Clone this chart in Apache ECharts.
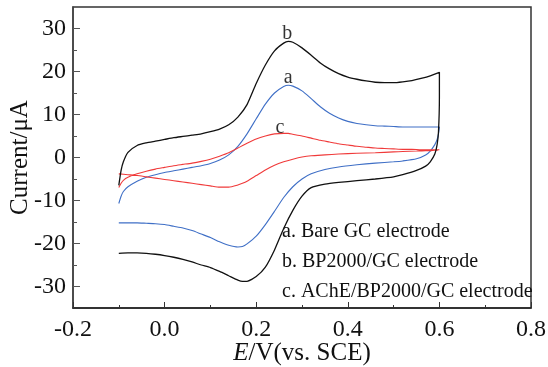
<!DOCTYPE html>
<html>
<head>
<meta charset="utf-8">
<script src="https://cdn.jsdelivr.net/npm/echarts@6/dist/echarts.min.js"></script>
<style>
  html, body { margin: 0; padding: 0; background: #fff; }
  #main { width: 548px; height: 367px; }
</style>
</head>
<body>
<div id="main"></div>
<script>
// potential grids (V vs SCE), forward = anodic scan, reverse = cathodic scan
const fwdE = [-0.1, -0.095, -0.09, -0.08, -0.06, -0.04, -0.02, 0, 0.02, 0.04, 0.06, 0.08, 0.1, 0.12, 0.14, 0.16, 0.18, 0.2, 0.22, 0.24, 0.26, 0.27, 0.28, 0.3, 0.32, 0.34, 0.36, 0.38, 0.4, 0.42, 0.44, 0.46, 0.48, 0.5, 0.52, 0.54, 0.56, 0.58, 0.6];
const revE = [0.6, 0.598, 0.595, 0.59, 0.58, 0.57, 0.55, 0.52, 0.5, 0.46, 0.42, 0.38, 0.35, 0.32, 0.3, 0.28, 0.26, 0.24, 0.22, 0.2, 0.18, 0.17, 0.16, 0.14, 0.12, 0.1, 0.08, 0.06, 0.04, 0.02, 0, -0.02, -0.04, -0.06, -0.08, -0.1];

// currents (uA)
const bareFwd = [-10.7, -9, -7.9, -6.8, -5.5, -4.6, -4.0, -3.5, -3.1, -2.7, -2.3, -1.9, -1.4, -0.6, 0.6, 2.6, 5.5, 9.0, 12.4, 15.0, 16.5, 16.8, 16.6, 15.5, 13.7, 11.8, 10.3, 9.2, 8.4, 7.9, 7.6, 7.4, 7.3, 7.2, 7.1, 7.1, 7.1, 7.1, 7.1];
const bareRev = [7.1, 5.5, 4.2, 3.0, 1.5, 0.6, -0.3, -0.8, -1.0, -1.3, -1.7, -2.2, -2.8, -3.8, -5.0, -6.8, -9.3, -12.5, -15.6, -18.3, -20.1, -20.7, -20.8, -20.4, -19.6, -18.6, -17.8, -17.0, -16.4, -16.0, -15.6, -15.4, -15.3, -15.2, -15.2, -15.2];

const bpFwd = [-6.5, -3, -1, 1.2, 2.8, 3.4, 3.8, 4.2, 4.6, 4.9, 5.2, 5.5, 6.0, 6.6, 7.6, 9.4, 12.3, 17.2, 21.5, 24.8, 26.6, 27.0, 26.8, 25.5, 23.8, 22.0, 20.6, 19.5, 18.7, 18.2, 17.8, 17.5, 17.4, 17.4, 17.6, 17.9, 18.4, 19.0, 19.8];
const bpRev = [14, 6, 3, 0.8, -1.0, -2.0, -3.0, -4.0, -4.5, -5.0, -5.4, -5.8, -6.2, -7.0, -9.0, -12.3, -16.5, -21.5, -25.5, -27.7, -28.8, -28.8, -28.5, -27.5, -26.5, -25.6, -25.0, -24.3, -23.7, -23.2, -22.8, -22.5, -22.3, -22.2, -22.2, -22.3];

const achFwd = [-7, -6, -5.3, -4.6, -3.8, -3.2, -2.7, -2.3, -1.9, -1.6, -1.3, -0.9, -0.4, 0.3, 1.1, 2.2, 3.3, 4.3, 5.0, 5.5, 5.6, 5.6, 5.4, 5.0, 4.5, 4.0, 3.6, 3.2, 2.9, 2.6, 2.4, 2.2, 2.1, 2.0, 1.9, 1.9, 1.8, 1.8, 1.8];
const achRev = [1.8, 1.8, 1.7, 1.7, 1.6, 1.6, 1.5, 1.4, 1.3, 1.1, 1.0, 0.8, 0.6, 0.4, 0.1, -0.4, -1.0, -1.8, -2.9, -4.2, -5.5, -6.0, -6.4, -6.9, -6.9, -6.6, -6.3, -6.0, -5.7, -5.4, -5.1, -4.8, -4.5, -4.2, -4.0, -3.8];

// curve tags placed above the oxidation peaks
const tagNames = ['b', 'a', 'c'];
const tagE = [0.268, 0.27, 0.252];
const tagI = [28.8, 18.6, 7.0];

const legendLines = ['a. Bare GC electrode', 'b. BP2000/GC electrode', 'c. AChE/BP2000/GC electrode'];

const yMajor = [-30, -20, -10, 0, 10, 20, 30];
const yMinor = [-25, -15, -5, 5, 15, 25];

const serif = 'Liberation Serif, Times New Roman, serif';

function loop(fE, fI, rE, rI) {
    const pts = fE.map((e, i) => [e, fI[i]]);
    rE.forEach((e, i) => pts.push([e, rI[i]]));
    return pts;
}

const myChart = echarts.init(document.getElementById('main'));

const option = {
    animation: false,
    backgroundColor: '#fff',
    grid: {
        left: 73, right: 17, top: 7, bottom: 59,
        outerBoundsMode: 'none',
        containLabel: false,
        show: true,
        borderColor: '#333',
        borderWidth: 1.5
    },
    xAxis: {
        type: 'value',
        min: -0.2,
        max: 0.8,
        interval: 0.2,
        name: '{i|E}/V(vs. SCE)',
        nameLocation: 'middle',
        nameGap: 33,
        nameMoveOverlap: false,
        nameTextStyle: {
            fontFamily: serif, fontSize: 25, color: '#111',
            rich: { i: { fontFamily: serif, fontSize: 25, fontStyle: 'italic', color: '#111' } }
        },
        axisLine: { onZero: false, lineStyle: { color: '#222', width: 1.5 } },
        axisTick: { inside: true, length: 6, lineStyle: { color: '#333' } },
        minorTick: { show: true, splitNumber: 2, length: 3, lineStyle: { color: '#333' } },
        splitLine: { show: false },
        axisLabel: {
            fontFamily: serif, fontSize: 24, color: '#111', margin: 10,
            formatter: v => v.toFixed(1)
        }
    },
    yAxis: [{
        type: 'value',
        min: -35,
        max: 35,
        name: 'Current/\u03bcA',
        nameLocation: 'middle',
        nameGap: 40,
        nameMoveOverlap: false,
        nameTextStyle: { fontFamily: serif, fontSize: 25, color: '#111' },
        axisLine: { onZero: false, lineStyle: { color: '#444', width: 1.5 } },
        axisTick: { inside: true, length: 7, customValues: yMajor, lineStyle: { color: '#555' } },
        splitLine: { show: false },
        axisLabel: {
            fontFamily: serif, fontSize: 24, color: '#111', margin: 7,
            customValues: yMajor
        }
    }, {
        type: 'value',
        min: -35,
        max: 35,
        position: 'left',
        axisLine: { show: false, onZero: false },
        axisTick: { inside: true, length: 4, customValues: yMinor, lineStyle: { color: '#555' } },
        splitLine: { show: false },
        axisLabel: { show: false }
    }],
    series: [
        {
            type: 'line', name: 'a', data: loop(fwdE, bareFwd, revE, bareRev),
            showSymbol: false, smooth: 0.2, color: '#3f6fc6', lineStyle: { width: 1.1 }
        },
        {
            type: 'line', name: 'c', data: loop(fwdE, achFwd, revE, achRev),
            showSymbol: false, smooth: 0.2, color: '#f03a3a', lineStyle: { width: 1.1 }
        },
        {
            type: 'line', name: 'b', data: loop(fwdE, bpFwd, revE, bpRev),
            showSymbol: false, smooth: 0.2, color: '#111', lineStyle: { width: 1.3 }
        },
        {
            type: 'scatter',
            symbolSize: 0,
            silent: true,
            data: tagNames.map((t, i) => [tagE[i], tagI[i], t]),
            label: {
                show: true, position: 'inside',
                fontFamily: serif, fontSize: 20, color: '#000',
                textBorderWidth: 0,
                formatter: p => p.value[2]
            }
        }
    ],
    graphic: legendLines.map((t, i) => ({
        type: 'text',
        left: 282,
        top: 222 + i * 30,
        style: { text: t, font: '20px ' + serif, fill: '#111' }
    }))
};

myChart.setOption(option);
</script>
</body>
</html>
